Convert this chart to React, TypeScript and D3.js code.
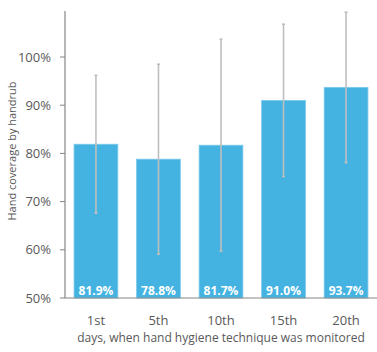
import React from 'react'
import * as d3 from 'd3'

const days = ['1st', '5th', '10th', '15th', '20th']
const coverage = [81.9, 78.8, 81.7, 91.0, 93.7]
const errLow = [67.6, 59.1, 59.7, 75.2, 78.1]
const errHigh = [96.2, 98.5, 103.7, 106.8, 109.3]
const yTicks = [50, 60, 70, 80, 90, 100]

export default function App() {
  const width = 377
  const height = 352
  const left = 65
  const right = 377
  const base = 298

  const x = d3.scaleBand<string>()
    .domain(days)
    .range([left, right])
    .paddingInner(0.3)
    .paddingOuter(0.145)

  const y = d3.scaleLinear().domain([50, 100]).range([base, 57])
  const font = 'Open Sans, Liberation Sans, sans-serif'
  const textCol = '#595959'

  return (
    <svg width={width} height={height} style={{ position: 'absolute', left: 0, top: 0, background: '#fff' }}>
      {coverage.map((v, i) => (
        <rect key={'b' + i} x={x(days[i])} y={y(v)} width={x.bandwidth()} height={base - y(v)}
          fill="#44b3e1" stroke="#7cc9ea" strokeWidth={0.8} />
      ))}
      {coverage.map((v, i) => {
        const cx = (x(days[i]) as number) + x.bandwidth() / 2
        return (
          <g key={'e' + i} stroke="#bfbfbf" strokeWidth={1.6}>
            <line x1={cx} x2={cx} y1={y(errHigh[i])} y2={y(errLow[i])} />
            <line x1={cx - 1.5} x2={cx + 1.5} y1={y(errHigh[i])} y2={y(errHigh[i])} />
            <line x1={cx - 1.5} x2={cx + 1.5} y1={y(errLow[i])} y2={y(errLow[i])} />
          </g>
        )
      })}
      {coverage.map((v, i) => (
        <text key={'l' + i} x={(x(days[i]) as number) + x.bandwidth() / 2} y={295}
          textAnchor="middle" fill="#fff" fontWeight="bold" fontSize={12} fontFamily={font}>
          {v.toFixed(1)}%
        </text>
      ))}
      <line x1={left} x2={left} y1={11} y2={base} stroke="#868686" strokeWidth={1.2} />
      <line x1={left} x2={right} y1={base} y2={base} stroke="#868686" strokeWidth={1.2} />
      {yTicks.map(t => (
        <g key={'t' + t}>
          <line x1={left - 5} x2={left} y1={y(t)} y2={y(t)} stroke="#868686" strokeWidth={1} />
          <text x={51} y={y(t)} dy="0.35em" textAnchor="end" fill={textCol} fontSize={13} fontFamily={font}>{t}%</text>
        </g>
      ))}
      {days.map(d => (
        <text key={'x' + d} x={(x(d) as number) + x.bandwidth() / 2} y={320} dy="0.35em" textAnchor="middle"
          fill={textCol} fontSize={13} fontFamily={font}>{d}</text>
      ))}
      <text x={221} y={338} dy="0.35em" textAnchor="middle" fill={textCol} fontSize={12} fontFamily={font}>
        days, when hand hygiene technique was monitored
      </text>
      <text transform={`translate(12,${151}) rotate(-90)`} dy="0.35em" textAnchor="middle" fill={textCol}
        fontSize={11} fontFamily={font}>Hand coverage by handrub</text>
    </svg>
  )
}
